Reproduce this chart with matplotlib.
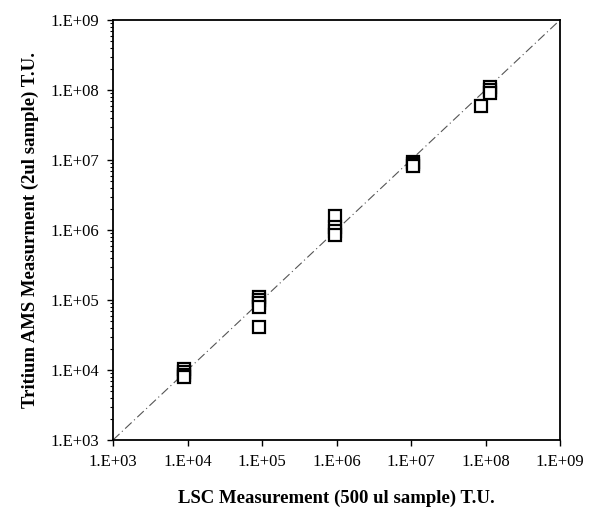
import numpy as np
import matplotlib
matplotlib.use("Agg")
import matplotlib.pyplot as plt
from matplotlib.ticker import FixedLocator, FuncFormatter, LogLocator, NullFormatter

# Data (LSC T.U. vs AMS T.U.)
lsc = [9.0e3, 9.0e3, 9.0e3, 9.0e3,
       9.0e4, 9.0e4, 9.0e4, 9.0e4, 9.0e4,
       9.6e5, 9.6e5, 9.6e5, 9.6e5,
       1.07e7, 1.07e7, 1.07e7,
       1.15e8, 1.15e8, 1.15e8, 8.7e7]
ams = [1.05e4, 9.5e3, 8.6e3, 7.9e3,
       1.1e5, 1.0e5, 9.0e4, 8.0e4, 4.1e4,
       1.6e6, 1.1e6, 9.6e5, 8.4e5,
       9.5e6, 8.8e6, 8.2e6,
       1.12e8, 1.0e8, 9.0e7, 5.9e7]
line_ends = [1e3, 1e9]
tick_exps = [3, 4, 5, 6, 7, 8, 9]

plt.rcParams['font.family'] = ['Liberation Serif', 'DejaVu Serif']

fig = plt.figure(figsize=(6.04, 5.24), dpi=100)
ax = fig.add_axes([113/604, 1-440/524, (560-113)/604, (440-20)/524])

ax.plot(line_ends, line_ends, color='#555555', linestyle=(0, (8, 3, 1, 3)), linewidth=0.8, zorder=1)
ax.plot(lsc, ams, linestyle='none', marker='s', markersize=9, markerfacecolor='white',
        markeredgecolor='black', markeredgewidth=1.6, zorder=2)

ax.set_xscale('log')
ax.set_yscale('log')
ax.set_xlim(1e3, 1e9)
ax.set_ylim(1e3, 1e9)

ticks = [10.0**e for e in tick_exps]
fmt = FuncFormatter(lambda v, p: "1.E+%02d" % int(round(np.log10(v))))
for axis in (ax.xaxis, ax.yaxis):
    axis.set_major_locator(FixedLocator(ticks))
    axis.set_major_formatter(fmt)
    axis.set_minor_formatter(NullFormatter())
ax.xaxis.set_minor_locator(FixedLocator([]))
ax.yaxis.set_minor_locator(LogLocator(base=10, subs=np.arange(2, 10), numticks=20))

ax.tick_params(axis='both', which='major', direction='out', length=4, width=1, labelsize=12, pad=6)
ax.tick_params(axis='y', which='minor', direction='out', length=2.5, width=0.8)
for s in ax.spines.values():
    s.set_linewidth(1.3)

ax.set_xlabel('LSC Measurement (500 ul sample) T.U.', fontsize=13.5, fontweight='bold', labelpad=14)
ax.set_ylabel('Tritium AMS Measurment (2ul sample) T.U.', fontsize=13.5, fontweight='bold', labelpad=8)

fig.savefig('out.png', dpi=100)
